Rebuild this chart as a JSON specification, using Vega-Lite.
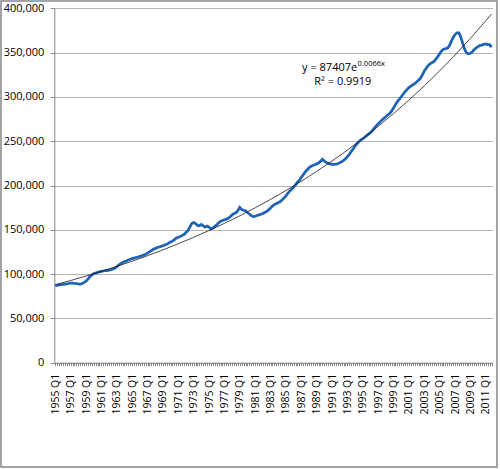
{
  "$schema": "https://vega.github.io/schema/vega-lite/v6.json",
  "width": 496,
  "height": 466,
  "autosize": {"type": "none"},
  "padding": {"left": 1, "top": 1, "right": 3, "bottom": 2},
  "background": "white",
  "datasets": {
    "gdp": [
      {"i":0,"v":86900},{"i":1,"v":87300},{"i":2,"v":87800},{"i":3,"v":88100},
      {"i":4,"v":88400},{"i":5,"v":88700},{"i":6,"v":89000},{"i":7,"v":89400},
      {"i":8,"v":89700},{"i":9,"v":89900},{"i":10,"v":89500},{"i":11,"v":89300},
      {"i":12,"v":89000},{"i":13,"v":88800},{"i":14,"v":89300},{"i":15,"v":90600},
      {"i":16,"v":92000},{"i":17,"v":94300},{"i":18,"v":97200},{"i":19,"v":98800},
      {"i":20,"v":100500},{"i":21,"v":101300},{"i":22,"v":102000},{"i":23,"v":102600},
      {"i":24,"v":103100},{"i":25,"v":103500},{"i":26,"v":103800},{"i":27,"v":104000},
      {"i":28,"v":104400},{"i":29,"v":105000},{"i":30,"v":105800},{"i":31,"v":106500},
      {"i":32,"v":108300},{"i":33,"v":110300},{"i":34,"v":111800},{"i":35,"v":113000},
      {"i":36,"v":114000},{"i":37,"v":114900},{"i":38,"v":115800},{"i":39,"v":116700},
      {"i":40,"v":117500},{"i":41,"v":118100},{"i":42,"v":118700},{"i":43,"v":119300},
      {"i":44,"v":120000},{"i":45,"v":120800},{"i":46,"v":121600},{"i":47,"v":122300},
      {"i":48,"v":123600},{"i":49,"v":125000},{"i":50,"v":126500},{"i":51,"v":128000},
      {"i":52,"v":129000},{"i":53,"v":129900},{"i":54,"v":130600},{"i":55,"v":131300},
      {"i":56,"v":132000},{"i":57,"v":132800},{"i":58,"v":133600},{"i":59,"v":134900},
      {"i":60,"v":136300},{"i":61,"v":137200},{"i":62,"v":138800},{"i":63,"v":140700},
      {"i":64,"v":141600},{"i":65,"v":142500},{"i":66,"v":143500},{"i":67,"v":144700},
      {"i":68,"v":147000},{"i":69,"v":149000},{"i":70,"v":153000},{"i":71,"v":157000},
      {"i":72,"v":158200},{"i":73,"v":157000},{"i":74,"v":155000},{"i":75,"v":154500},
      {"i":76,"v":156000},{"i":77,"v":154500},{"i":78,"v":153000},{"i":79,"v":154200},
      {"i":80,"v":153000},{"i":81,"v":151000},{"i":82,"v":152000},{"i":83,"v":154000},
      {"i":84,"v":155500},{"i":85,"v":157800},{"i":86,"v":159500},{"i":87,"v":160600},
      {"i":88,"v":161300},{"i":89,"v":162000},{"i":90,"v":163000},{"i":91,"v":164800},
      {"i":92,"v":166800},{"i":93,"v":168300},{"i":94,"v":169200},{"i":95,"v":171500},
      {"i":96,"v":175400},{"i":97,"v":172800},{"i":98,"v":172000},{"i":99,"v":171400},
      {"i":100,"v":169500},{"i":101,"v":167800},{"i":102,"v":166000},{"i":103,"v":164900},
      {"i":104,"v":165300},{"i":105,"v":166200},{"i":106,"v":166900},{"i":107,"v":167500},
      {"i":108,"v":168400},{"i":109,"v":169500},{"i":110,"v":170900},{"i":111,"v":172500},
      {"i":112,"v":174700},{"i":113,"v":176900},{"i":114,"v":178500},{"i":115,"v":179700},
      {"i":116,"v":180500},{"i":117,"v":181900},{"i":118,"v":183700},{"i":119,"v":185800},
      {"i":120,"v":188300},{"i":121,"v":191200},{"i":122,"v":193700},{"i":123,"v":195800},
      {"i":124,"v":198000},{"i":125,"v":200800},{"i":126,"v":203700},{"i":127,"v":205800},
      {"i":128,"v":209200},{"i":129,"v":212000},{"i":130,"v":215000},{"i":131,"v":217500},
      {"i":132,"v":220000},{"i":133,"v":221500},{"i":134,"v":222700},{"i":135,"v":223500},
      {"i":136,"v":224400},{"i":137,"v":225300},{"i":138,"v":227200},{"i":139,"v":229600},
      {"i":140,"v":227500},{"i":141,"v":226100},{"i":142,"v":225000},{"i":143,"v":224300},
      {"i":144,"v":223900},{"i":145,"v":223800},{"i":146,"v":224000},{"i":147,"v":224600},
      {"i":148,"v":225600},{"i":149,"v":226700},{"i":150,"v":228200},{"i":151,"v":230200},
      {"i":152,"v":232500},{"i":153,"v":235200},{"i":154,"v":238300},{"i":155,"v":241300},
      {"i":156,"v":244500},{"i":157,"v":247200},{"i":158,"v":249300},{"i":159,"v":251300},
      {"i":160,"v":252800},{"i":161,"v":254500},{"i":162,"v":256200},{"i":163,"v":257900},
      {"i":164,"v":259600},{"i":165,"v":262000},{"i":166,"v":264800},{"i":167,"v":267300},
      {"i":168,"v":269600},{"i":169,"v":271800},{"i":170,"v":274000},{"i":171,"v":275800},
      {"i":172,"v":277600},{"i":173,"v":279500},{"i":174,"v":281300},{"i":175,"v":283900},
      {"i":176,"v":287600},{"i":177,"v":291200},{"i":178,"v":294600},{"i":179,"v":297200},
      {"i":180,"v":300200},{"i":181,"v":303000},{"i":182,"v":305900},{"i":183,"v":308200},
      {"i":184,"v":310500},{"i":185,"v":312100},{"i":186,"v":313600},{"i":187,"v":315000},
      {"i":188,"v":316800},{"i":189,"v":318800},{"i":190,"v":321000},{"i":191,"v":324700},
      {"i":192,"v":329200},{"i":193,"v":332300},{"i":194,"v":335200},{"i":195,"v":337300},
      {"i":196,"v":338700},{"i":197,"v":339900},{"i":198,"v":342500},{"i":199,"v":345400},
      {"i":200,"v":348800},{"i":201,"v":352000},{"i":202,"v":353800},{"i":203,"v":354400},
      {"i":204,"v":355000},{"i":205,"v":357500},{"i":206,"v":362300},{"i":207,"v":366800},
      {"i":208,"v":370300},{"i":209,"v":372300},{"i":210,"v":372200},{"i":211,"v":367500},
      {"i":212,"v":360500},{"i":213,"v":353800},{"i":214,"v":349500},{"i":215,"v":348600},
      {"i":216,"v":349300},{"i":217,"v":351000},{"i":218,"v":353500},{"i":219,"v":355300},
      {"i":220,"v":356800},{"i":221,"v":358200},{"i":222,"v":358500},{"i":223,"v":359300},
      {"i":224,"v":359800},{"i":225,"v":359000},{"i":226,"v":358900},{"i":227,"v":356200}
    ],
    "trend": [
      {"i":0,"v":87986},{"i":8,"v":92756},{"i":16,"v":97785},{"i":24,"v":103087},
      {"i":32,"v":108677},{"i":40,"v":114569},{"i":48,"v":120781},{"i":56,"v":127330},
      {"i":64,"v":134234},{"i":72,"v":141512},{"i":80,"v":149185},{"i":88,"v":157274},
      {"i":96,"v":165802},{"i":104,"v":174792},{"i":112,"v":184270},{"i":120,"v":194261},
      {"i":128,"v":204794},{"i":136,"v":215898},{"i":144,"v":227605},{"i":152,"v":239946},
      {"i":160,"v":252956},{"i":168,"v":266672},{"i":176,"v":281131},{"i":184,"v":296374},
      {"i":192,"v":312444},{"i":200,"v":329385},{"i":208,"v":347245},{"i":216,"v":366073},
      {"i":224,"v":385900},{"i":227,"v":393616}
    ],
    "notes": [
      {"i":157.1,"v":332300,"t":"y = 87407e","k":"main"},
      {"i":157.3,"v":336600,"t":"0.0066x","k":"sup"},
      {"i":149.6,"v":317200,"t":"R² = 0.9919","k":"r2"}
    ]
  },
  "encoding": {
    "x": {
      "field": "i",
      "type": "quantitative",
      "scale": {"domain": [-0.5, 227.5], "range": [53.3, 491.5], "nice": false, "zero": false},
      "axis": {
        "title": null,
        "offset": -104.3,
        "tickCount": 228,
        "grid": false,
        "labelAngle": -90,
        "labelOverlap": false,
        "labelFlush": false,
        "labelBound": false,
        "labelExpr": "datum.value % 8 == 0 ? (1955 + datum.value / 4) + ' Q1' : ''",
        "labelFontSize": 10.5,
        "labelPadding": 7.5,
        "tickSize": 3,
        "domainColor": "#868686",
        "tickColor": "#868686"
      }
    },
    "y": {
      "field": "v",
      "type": "quantitative",
      "scale": {"domain": [0, 400000], "range": [361.7, 7.3], "nice": false, "zero": true},
      "axis": {
        "title": null,
        "offset": -53.3,
        "values": [0, 50000, 100000, 150000, 200000, 250000, 300000, 350000, 400000],
        "format": ",d",
        "grid": true,
        "gridColor": "#b3b3b3",
        "tickSize": 4,
        "labelPadding": 6.5,
        "domainColor": "#868686",
        "tickColor": "#868686"
      }
    }
  },
  "layer": [
    {
      "data": {"name": "gdp"},
      "mark": {"type": "line", "color": "#1f63b6", "strokeWidth": 2.75}
    },
    {
      "data": {"name": "trend"},
      "mark": {"type": "line", "color": "#1a1a1a", "strokeWidth": 0.8}
    },
    {
      "data": {"name": "notes"},
      "transform": [{"filter": "datum.k == 'main'"}],
      "mark": {"type": "text", "align": "right", "baseline": "middle", "font": "Open Sans", "fontSize": 11, "color": "#000"},
      "encoding": {"text": {"field": "t"}}
    },
    {
      "data": {"name": "notes"},
      "transform": [{"filter": "datum.k == 'sup'"}],
      "mark": {"type": "text", "align": "left", "baseline": "middle", "font": "Open Sans", "fontSize": 7.5, "color": "#000"},
      "encoding": {"text": {"field": "t"}}
    },
    {
      "data": {"name": "notes"},
      "transform": [{"filter": "datum.k == 'r2'"}],
      "mark": {"type": "text", "align": "center", "baseline": "middle", "font": "Open Sans", "fontSize": 11, "color": "#000"},
      "encoding": {"text": {"field": "t"}}
    }
  ],
  "config": {
    "view": {"stroke": "#868686", "strokeWidth": 1.5},
    "axis": {"labelFont": "Open Sans", "labelFontSize": 11, "labelColor": "#000"}
  }
}
